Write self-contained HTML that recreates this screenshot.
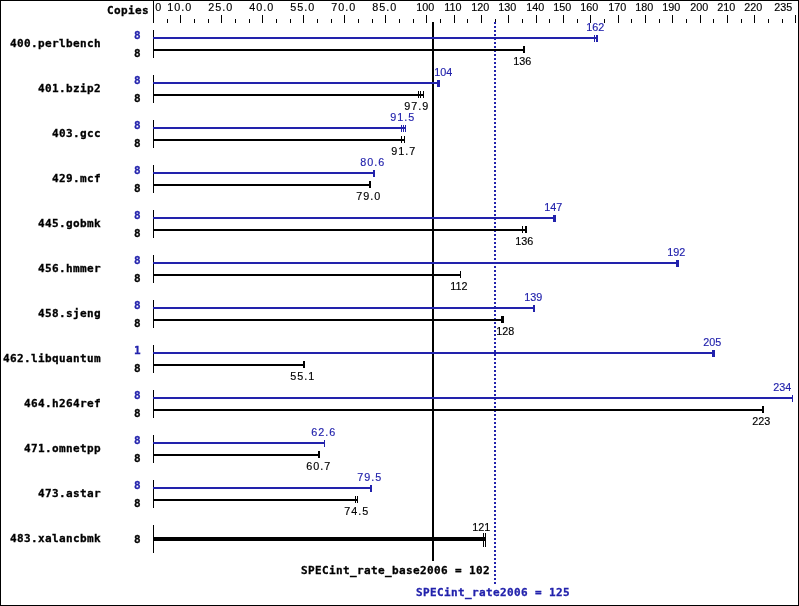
<!DOCTYPE html>
<html><head><meta charset="utf-8"><title>SPECint_rate2006 graph</title>
<style>
html,body{margin:0;padding:0;background:#fff}
#g{position:relative;width:799px;height:606px;overflow:hidden;background:#fff}
#f{position:absolute;left:0;top:0;width:797px;height:604px;border:1px solid #000;z-index:5}
.b{position:absolute}
.s,.m{position:absolute;white-space:pre;line-height:20px;height:20px;color:#000}
.s{font-family:"Liberation Sans",sans-serif;font-size:10.8px}
.d{letter-spacing:1px}
.s{-webkit-text-stroke:0.15px currentColor}
.m{-webkit-text-stroke:0.3px currentColor}
.m{font-family:"DejaVu Sans Mono","Liberation Mono",monospace;font-weight:bold;font-size:11px;letter-spacing:0.38px}
.dot{background:repeating-linear-gradient(to bottom,#2222ac 0,#2222ac 2px,transparent 2px,transparent 4px)}
</style></head><body><div id="g">
<div class="b" style="left:153px;top:0px;width:1px;height:23px;background:#000;"></div>
<div class="b" style="left:167px;top:19px;width:1px;height:4px;background:#000;"></div>
<div class="b" style="left:180px;top:15px;width:1px;height:8px;background:#000;"></div>
<div class="b" style="left:194px;top:19px;width:1px;height:4px;background:#000;"></div>
<div class="b" style="left:208px;top:19px;width:1px;height:4px;background:#000;"></div>
<div class="b" style="left:221px;top:15px;width:1px;height:8px;background:#000;"></div>
<div class="b" style="left:235px;top:19px;width:1px;height:4px;background:#000;"></div>
<div class="b" style="left:249px;top:19px;width:1px;height:4px;background:#000;"></div>
<div class="b" style="left:262px;top:15px;width:1px;height:8px;background:#000;"></div>
<div class="b" style="left:276px;top:19px;width:1px;height:4px;background:#000;"></div>
<div class="b" style="left:290px;top:19px;width:1px;height:4px;background:#000;"></div>
<div class="b" style="left:303px;top:15px;width:1px;height:8px;background:#000;"></div>
<div class="b" style="left:317px;top:19px;width:1px;height:4px;background:#000;"></div>
<div class="b" style="left:331px;top:19px;width:1px;height:4px;background:#000;"></div>
<div class="b" style="left:344px;top:15px;width:1px;height:8px;background:#000;"></div>
<div class="b" style="left:358px;top:19px;width:1px;height:4px;background:#000;"></div>
<div class="b" style="left:372px;top:19px;width:1px;height:4px;background:#000;"></div>
<div class="b" style="left:385px;top:15px;width:1px;height:8px;background:#000;"></div>
<div class="b" style="left:399px;top:19px;width:1px;height:4px;background:#000;"></div>
<div class="b" style="left:413px;top:19px;width:1px;height:4px;background:#000;"></div>
<div class="b" style="left:426px;top:15px;width:1px;height:8px;background:#000;"></div>
<div class="b" style="left:440px;top:19px;width:1px;height:4px;background:#000;"></div>
<div class="b" style="left:454px;top:15px;width:1px;height:8px;background:#000;"></div>
<div class="b" style="left:467px;top:19px;width:1px;height:4px;background:#000;"></div>
<div class="b" style="left:481px;top:15px;width:1px;height:8px;background:#000;"></div>
<div class="b" style="left:495px;top:19px;width:1px;height:4px;background:#000;"></div>
<div class="b" style="left:508px;top:15px;width:1px;height:8px;background:#000;"></div>
<div class="b" style="left:522px;top:19px;width:1px;height:4px;background:#000;"></div>
<div class="b" style="left:536px;top:15px;width:1px;height:8px;background:#000;"></div>
<div class="b" style="left:549px;top:19px;width:1px;height:4px;background:#000;"></div>
<div class="b" style="left:563px;top:15px;width:1px;height:8px;background:#000;"></div>
<div class="b" style="left:577px;top:19px;width:1px;height:4px;background:#000;"></div>
<div class="b" style="left:590px;top:15px;width:1px;height:8px;background:#000;"></div>
<div class="b" style="left:604px;top:19px;width:1px;height:4px;background:#000;"></div>
<div class="b" style="left:618px;top:15px;width:1px;height:8px;background:#000;"></div>
<div class="b" style="left:631px;top:19px;width:1px;height:4px;background:#000;"></div>
<div class="b" style="left:645px;top:15px;width:1px;height:8px;background:#000;"></div>
<div class="b" style="left:659px;top:19px;width:1px;height:4px;background:#000;"></div>
<div class="b" style="left:672px;top:15px;width:1px;height:8px;background:#000;"></div>
<div class="b" style="left:686px;top:19px;width:1px;height:4px;background:#000;"></div>
<div class="b" style="left:700px;top:15px;width:1px;height:8px;background:#000;"></div>
<div class="b" style="left:713px;top:19px;width:1px;height:4px;background:#000;"></div>
<div class="b" style="left:727px;top:15px;width:1px;height:8px;background:#000;"></div>
<div class="b" style="left:741px;top:19px;width:1px;height:4px;background:#000;"></div>
<div class="b" style="left:754px;top:15px;width:1px;height:8px;background:#000;"></div>
<div class="b" style="left:768px;top:19px;width:1px;height:4px;background:#000;"></div>
<div class="b" style="left:782px;top:19px;width:1px;height:4px;background:#000;"></div>
<div class="b" style="left:795px;top:15px;width:1px;height:8px;background:#000;"></div>
<div class="s" style="left:155.3px;top:-3px">0</div>
<div class="s d" style="left:167.3px;top:-3px">10.0</div>
<div class="s d" style="left:208.3px;top:-3px">25.0</div>
<div class="s d" style="left:249.3px;top:-3px">40.0</div>
<div class="s d" style="left:290.3px;top:-3px">55.0</div>
<div class="s d" style="left:331.3px;top:-3px">70.0</div>
<div class="s d" style="left:372.3px;top:-3px">85.0</div>
<div class="s" style="left:416.3px;top:-3px">100</div>
<div class="s" style="left:444.3px;top:-3px">110</div>
<div class="s" style="left:471.3px;top:-3px">120</div>
<div class="s" style="left:498.3px;top:-3px">130</div>
<div class="s" style="left:526.3px;top:-3px">140</div>
<div class="s" style="left:553.3px;top:-3px">150</div>
<div class="s" style="left:580.3px;top:-3px">160</div>
<div class="s" style="left:608.3px;top:-3px">170</div>
<div class="s" style="left:635.3px;top:-3px">180</div>
<div class="s" style="left:662.3px;top:-3px">190</div>
<div class="s" style="left:690.3px;top:-3px">200</div>
<div class="s" style="left:717.3px;top:-3px">210</div>
<div class="s" style="left:744.3px;top:-3px">220</div>
<div class="s" style="left:774.3px;top:-3px">235</div>
<div class="m" style="left:107px;top:1px">Copies</div>
<div class="b" style="left:432px;top:22px;width:2px;height:539px;background:#000;"></div>
<div class="b dot" style="left:494px;top:22px;width:2px;height:562px"></div>
<div class="b" style="left:153px;top:30px;width:1px;height:28px;background:#000;"></div>
<div class="m" style="right:698px;top:34px">400.perlbench</div>
<div class="m" style="left:134px;top:26px;color:#2222ac">8</div>
<div class="m" style="left:134px;top:44px">8</div>
<div class="b" style="left:153px;top:49px;width:372px;height:2px;background:#000;"></div>
<div class="b" style="left:523px;top:46px;width:1px;height:7px;background:#000;"></div>
<div class="b" style="left:524px;top:46px;width:1px;height:7px;background:#000;"></div>
<div class="b" style="left:153px;top:37px;width:445px;height:2px;background:#2222ac;"></div>
<div class="b" style="left:594px;top:35px;width:1px;height:7px;background:#2222ac;"></div>
<div class="b" style="left:596px;top:35px;width:1px;height:7px;background:#2222ac;"></div>
<div class="b" style="left:597px;top:35px;width:1px;height:7px;background:#2222ac;"></div>
<div class="s" style="left:586.3px;top:17px;color:#2222ac">162</div>
<div class="s" style="left:513.3px;top:51px">136</div>
<div class="b" style="left:153px;top:75px;width:1px;height:28px;background:#000;"></div>
<div class="m" style="right:698px;top:79px">401.bzip2</div>
<div class="m" style="left:134px;top:71px;color:#2222ac">8</div>
<div class="m" style="left:134px;top:89px">8</div>
<div class="b" style="left:153px;top:94px;width:271px;height:2px;background:#000;"></div>
<div class="b" style="left:418px;top:91px;width:1px;height:7px;background:#000;"></div>
<div class="b" style="left:420px;top:91px;width:1px;height:7px;background:#000;"></div>
<div class="b" style="left:423px;top:91px;width:1px;height:7px;background:#000;"></div>
<div class="b" style="left:153px;top:82px;width:287px;height:2px;background:#2222ac;"></div>
<div class="b" style="left:437px;top:80px;width:1px;height:7px;background:#2222ac;"></div>
<div class="b" style="left:438px;top:80px;width:1px;height:7px;background:#2222ac;"></div>
<div class="b" style="left:439px;top:80px;width:1px;height:7px;background:#2222ac;"></div>
<div class="s" style="left:434.3px;top:62px;color:#2222ac">104</div>
<div class="s d" style="left:404.3px;top:96px">97.9</div>
<div class="b" style="left:153px;top:120px;width:1px;height:28px;background:#000;"></div>
<div class="m" style="right:698px;top:124px">403.gcc</div>
<div class="m" style="left:134px;top:116px;color:#2222ac">8</div>
<div class="m" style="left:134px;top:134px">8</div>
<div class="b" style="left:153px;top:139px;width:252px;height:2px;background:#000;"></div>
<div class="b" style="left:401px;top:136px;width:1px;height:7px;background:#000;"></div>
<div class="b" style="left:404px;top:136px;width:1px;height:7px;background:#000;"></div>
<div class="b" style="left:153px;top:127px;width:253px;height:2px;background:#2222ac;"></div>
<div class="b" style="left:401px;top:125px;width:1px;height:7px;background:#2222ac;"></div>
<div class="b" style="left:403px;top:125px;width:1px;height:7px;background:#2222ac;"></div>
<div class="b" style="left:405px;top:125px;width:1px;height:7px;background:#2222ac;"></div>
<div class="s d" style="left:390.3px;top:107px;color:#2222ac">91.5</div>
<div class="s d" style="left:391.3px;top:141px">91.7</div>
<div class="b" style="left:153px;top:165px;width:1px;height:28px;background:#000;"></div>
<div class="m" style="right:698px;top:169px">429.mcf</div>
<div class="m" style="left:134px;top:161px;color:#2222ac">8</div>
<div class="m" style="left:134px;top:179px">8</div>
<div class="b" style="left:153px;top:184px;width:218px;height:2px;background:#000;"></div>
<div class="b" style="left:369px;top:181px;width:1px;height:7px;background:#000;"></div>
<div class="b" style="left:370px;top:181px;width:1px;height:7px;background:#000;"></div>
<div class="b" style="left:153px;top:172px;width:222px;height:2px;background:#2222ac;"></div>
<div class="b" style="left:373px;top:170px;width:1px;height:7px;background:#2222ac;"></div>
<div class="b" style="left:374px;top:170px;width:1px;height:7px;background:#2222ac;"></div>
<div class="s d" style="left:360.3px;top:152px;color:#2222ac">80.6</div>
<div class="s d" style="left:356.3px;top:186px">79.0</div>
<div class="b" style="left:153px;top:210px;width:1px;height:28px;background:#000;"></div>
<div class="m" style="right:698px;top:214px">445.gobmk</div>
<div class="m" style="left:134px;top:206px;color:#2222ac">8</div>
<div class="m" style="left:134px;top:224px">8</div>
<div class="b" style="left:153px;top:229px;width:374px;height:2px;background:#000;"></div>
<div class="b" style="left:522px;top:226px;width:1px;height:7px;background:#000;"></div>
<div class="b" style="left:525px;top:226px;width:1px;height:7px;background:#000;"></div>
<div class="b" style="left:526px;top:226px;width:1px;height:7px;background:#000;"></div>
<div class="b" style="left:153px;top:217px;width:403px;height:2px;background:#2222ac;"></div>
<div class="b" style="left:553px;top:215px;width:1px;height:7px;background:#2222ac;"></div>
<div class="b" style="left:554px;top:215px;width:1px;height:7px;background:#2222ac;"></div>
<div class="b" style="left:555px;top:215px;width:1px;height:7px;background:#2222ac;"></div>
<div class="s" style="left:544.3px;top:197px;color:#2222ac">147</div>
<div class="s" style="left:515.3px;top:231px">136</div>
<div class="b" style="left:153px;top:255px;width:1px;height:28px;background:#000;"></div>
<div class="m" style="right:698px;top:259px">456.hmmer</div>
<div class="m" style="left:134px;top:251px;color:#2222ac">8</div>
<div class="m" style="left:134px;top:269px">8</div>
<div class="b" style="left:153px;top:274px;width:308px;height:2px;background:#000;"></div>
<div class="b" style="left:460px;top:271px;width:1px;height:7px;background:#000;"></div>
<div class="b" style="left:153px;top:262px;width:526px;height:2px;background:#2222ac;"></div>
<div class="b" style="left:676px;top:260px;width:1px;height:7px;background:#2222ac;"></div>
<div class="b" style="left:677px;top:260px;width:1px;height:7px;background:#2222ac;"></div>
<div class="b" style="left:678px;top:260px;width:1px;height:7px;background:#2222ac;"></div>
<div class="s" style="left:667.3px;top:242px;color:#2222ac">192</div>
<div class="s" style="left:450.3px;top:276px">112</div>
<div class="b" style="left:153px;top:300px;width:1px;height:28px;background:#000;"></div>
<div class="m" style="right:698px;top:304px">458.sjeng</div>
<div class="m" style="left:134px;top:296px;color:#2222ac">8</div>
<div class="m" style="left:134px;top:314px">8</div>
<div class="b" style="left:153px;top:319px;width:351px;height:2px;background:#000;"></div>
<div class="b" style="left:501px;top:316px;width:1px;height:7px;background:#000;"></div>
<div class="b" style="left:502px;top:316px;width:1px;height:7px;background:#000;"></div>
<div class="b" style="left:503px;top:316px;width:1px;height:7px;background:#000;"></div>
<div class="b" style="left:153px;top:307px;width:382px;height:2px;background:#2222ac;"></div>
<div class="b" style="left:533px;top:305px;width:1px;height:7px;background:#2222ac;"></div>
<div class="b" style="left:534px;top:305px;width:1px;height:7px;background:#2222ac;"></div>
<div class="s" style="left:524.3px;top:287px;color:#2222ac">139</div>
<div class="s" style="left:496.3px;top:321px">128</div>
<div class="b" style="left:153px;top:345px;width:1px;height:28px;background:#000;"></div>
<div class="m" style="right:698px;top:349px">462.libquantum</div>
<div class="m" style="left:134px;top:341px;color:#2222ac">1</div>
<div class="m" style="left:134px;top:359px">8</div>
<div class="b" style="left:153px;top:364px;width:152px;height:2px;background:#000;"></div>
<div class="b" style="left:303px;top:361px;width:1px;height:7px;background:#000;"></div>
<div class="b" style="left:304px;top:361px;width:1px;height:7px;background:#000;"></div>
<div class="b" style="left:153px;top:352px;width:562px;height:2px;background:#2222ac;"></div>
<div class="b" style="left:712px;top:350px;width:1px;height:7px;background:#2222ac;"></div>
<div class="b" style="left:713px;top:350px;width:1px;height:7px;background:#2222ac;"></div>
<div class="b" style="left:714px;top:350px;width:1px;height:7px;background:#2222ac;"></div>
<div class="s" style="left:703.3px;top:332px;color:#2222ac">205</div>
<div class="s d" style="left:290.3px;top:366px">55.1</div>
<div class="b" style="left:153px;top:390px;width:1px;height:28px;background:#000;"></div>
<div class="m" style="right:698px;top:394px">464.h264ref</div>
<div class="m" style="left:134px;top:386px;color:#2222ac">8</div>
<div class="m" style="left:134px;top:404px">8</div>
<div class="b" style="left:153px;top:409px;width:611px;height:2px;background:#000;"></div>
<div class="b" style="left:762px;top:406px;width:1px;height:7px;background:#000;"></div>
<div class="b" style="left:763px;top:406px;width:1px;height:7px;background:#000;"></div>
<div class="b" style="left:153px;top:397px;width:640px;height:2px;background:#2222ac;"></div>
<div class="b" style="left:792px;top:395px;width:1px;height:7px;background:#2222ac;"></div>
<div class="s" style="left:773.3px;top:377px;color:#2222ac">234</div>
<div class="s" style="left:752.3px;top:411px">223</div>
<div class="b" style="left:153px;top:435px;width:1px;height:28px;background:#000;"></div>
<div class="m" style="right:698px;top:439px">471.omnetpp</div>
<div class="m" style="left:134px;top:431px;color:#2222ac">8</div>
<div class="m" style="left:134px;top:449px">8</div>
<div class="b" style="left:153px;top:454px;width:167px;height:2px;background:#000;"></div>
<div class="b" style="left:318px;top:451px;width:1px;height:7px;background:#000;"></div>
<div class="b" style="left:319px;top:451px;width:1px;height:7px;background:#000;"></div>
<div class="b" style="left:153px;top:442px;width:172px;height:2px;background:#2222ac;"></div>
<div class="b" style="left:324px;top:440px;width:1px;height:7px;background:#2222ac;"></div>
<div class="s d" style="left:311.3px;top:422px;color:#2222ac">62.6</div>
<div class="s d" style="left:306.3px;top:456px">60.7</div>
<div class="b" style="left:153px;top:480px;width:1px;height:28px;background:#000;"></div>
<div class="m" style="right:698px;top:484px">473.astar</div>
<div class="m" style="left:134px;top:476px;color:#2222ac">8</div>
<div class="m" style="left:134px;top:494px">8</div>
<div class="b" style="left:153px;top:499px;width:205px;height:2px;background:#000;"></div>
<div class="b" style="left:355px;top:496px;width:1px;height:7px;background:#000;"></div>
<div class="b" style="left:357px;top:496px;width:1px;height:7px;background:#000;"></div>
<div class="b" style="left:153px;top:487px;width:219px;height:2px;background:#2222ac;"></div>
<div class="b" style="left:370px;top:485px;width:1px;height:7px;background:#2222ac;"></div>
<div class="b" style="left:371px;top:485px;width:1px;height:7px;background:#2222ac;"></div>
<div class="s d" style="left:357.3px;top:467px;color:#2222ac">79.5</div>
<div class="s d" style="left:344.3px;top:501px">74.5</div>
<div class="b" style="left:153px;top:525px;width:1px;height:28px;background:#000;"></div>
<div class="m" style="right:698px;top:529px">483.xalancbmk</div>
<div class="m" style="left:134px;top:530px">8</div>
<div class="b" style="left:153px;top:537px;width:333px;height:4px;background:#000;"></div>
<div class="b" style="left:483px;top:533px;width:1px;height:14px;background:#000;"></div>
<div class="b" style="left:485px;top:533px;width:1px;height:14px;background:#000;"></div>
<div class="s" style="left:472.3px;top:517px">121</div>
<div class="m" style="left:301px;top:561px">SPECint_rate_base2006 = 102</div>
<div class="m" style="left:416px;top:583px;color:#2222ac">SPECint_rate2006 = 125</div>
<div id="f"></div>
</div></body></html>
